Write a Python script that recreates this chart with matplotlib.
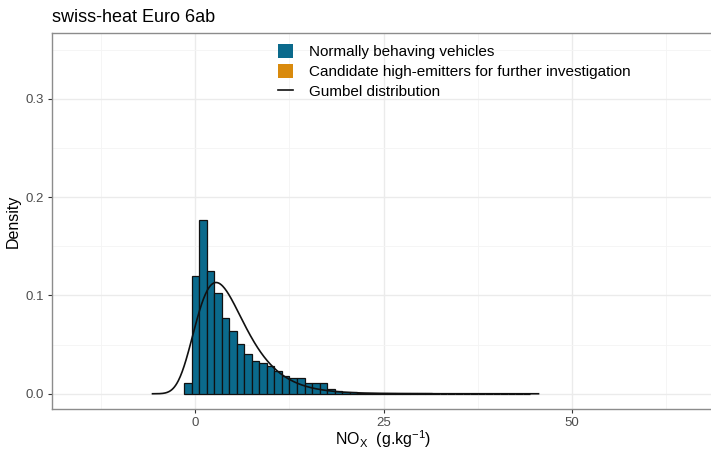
import numpy as np
import matplotlib
matplotlib.use("Agg")
import matplotlib.pyplot as plt
from matplotlib.patches import Patch
from matplotlib.lines import Line2D

plt.rcParams['font.family'] = ['Liberation Sans', 'DejaVu Sans']

# histogram of NOx emission factors (1 g/kg bins, density)
bin_left = np.arange(-1.5, 44.5, 1.0)
density = [0.011, 0.120, 0.177, 0.125, 0.102, 0.077, 0.064, 0.051, 0.040,
           0.033, 0.031, 0.028, 0.023, 0.018, 0.016, 0.016, 0.011, 0.011,
           0.011, 0.005, 0.003, 0.002, 0.0015, 0.001, 0.001, 0.0008, 0.0006,
           0.0005, 0.0005, 0.0004, 0.0003, 0.0003, 0.0003, 0.0002, 0.0002,
           0.0002, 0.0002, 0.0001, 0.0001, 0.0001, 0.0001, 0.0001, 0.0001,
           0.0001, 0.0001, 0.0001]

# fitted Gumbel parameters
gumbel_mu = 2.75
gumbel_beta = 3.25
curve_range = (-5.7, 45.6)

col_normal = '#0B6A8C'
col_high = '#D98A0D'

fig = plt.figure(figsize=(7.11, 4.54), dpi=100)
ax = fig.add_axes([52 / 711, 1 - 409 / 454, 1.005 - 52 / 711, (409 - 33) / 454])

ax.bar(bin_left, density, width=1.0, align='edge', color=col_normal,
       edgecolor='#111111', linewidth=0.9, zorder=3)

xs = np.linspace(curve_range[0], curve_range[1], 600)
z = (xs - gumbel_mu) / gumbel_beta
pdf = np.exp(-(z + np.exp(-z))) / gumbel_beta
ax.plot(xs, pdf, color='#111111', linewidth=1.2, zorder=4)

ax.set_xlim(-19.06, 69)
ax.set_ylim(-0.0155, 0.367)
ax.set_xticks([0, 25, 50])
ax.set_xticks([-12.5, 12.5, 37.5, 62.5], minor=True)
ax.set_yticks([0.0, 0.1, 0.2, 0.3])
ax.set_yticklabels(['0.0', '0.1', '0.2', '0.3'])
ax.set_yticks([0.05, 0.15, 0.25, 0.35], minor=True)
ax.grid(which='major', color='#EBEBEB', linewidth=1.0, zorder=0)
ax.grid(which='minor', color='#F4F4F4', linewidth=0.6, zorder=0)
ax.set_axisbelow(True)
for s in ax.spines.values():
    s.set_color('#8C8C8C')
    s.set_linewidth(1.0)
ax.tick_params(which='major', length=3, color='#333333', labelcolor='#4D4D4D',
               labelsize=9.5, pad=2.5)
ax.tick_params(which='minor', length=0)

ax.set_xlabel('NO$_\\mathregular{X}$  (g.kg$^\\mathregular{-1}$)', fontsize=11.5,
              labelpad=0)
ax.set_ylabel('Density', fontsize=11.5, labelpad=4)
fig.text(52 / 711, 1 - 18 / 454, 'swiss-heat Euro 6ab', fontsize=13,
         va='center', ha='left')

handles = [Patch(facecolor=col_normal, edgecolor='none'),
           Patch(facecolor=col_high, edgecolor='none'),
           Line2D([], [], color='#111111', linewidth=1.2)]
labels = ['Normally behaving vehicles',
          'Candidate high-emitters for further investigation',
          'Gumbel distribution']
ax.legend(handles, labels, loc='upper left', bbox_to_anchor=(0.332, 0.986),
          frameon=False, fontsize=11, handlelength=1.0, handleheight=1.0,
          handletextpad=1.0, labelspacing=0.3, borderaxespad=0)

fig.savefig('out.png', dpi=100)
